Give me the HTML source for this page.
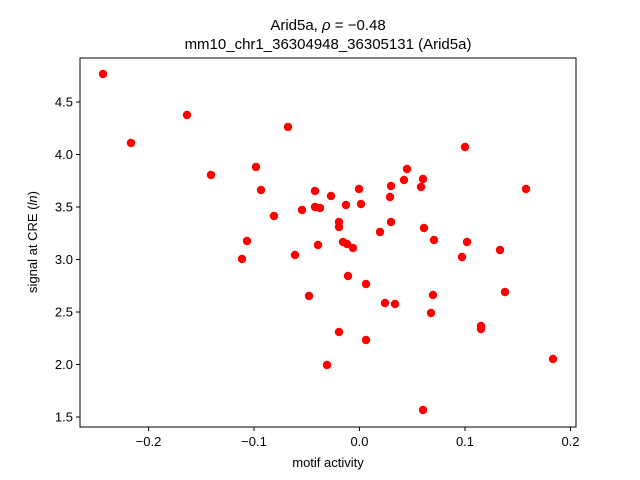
<!DOCTYPE html>
<html><head><meta charset="utf-8"><style>body{margin:0;background:#fff}svg{display:block}text{font-family:"Liberation Sans","DejaVu Sans",sans-serif;fill:#000}</style></head><body>
<svg width="640" height="480" xmlns="http://www.w3.org/2000/svg">
<rect width="640" height="480" fill="#fff"/>
<g fill="#ff0000">
<circle cx="103" cy="74" r="4.2"/><circle cx="131" cy="143" r="4.2"/><circle cx="187" cy="115" r="4.2"/><circle cx="211" cy="175" r="4.2"/><circle cx="242" cy="259" r="4.2"/><circle cx="247" cy="241" r="4.2"/><circle cx="256" cy="167" r="4.2"/><circle cx="261" cy="190" r="4.2"/><circle cx="274" cy="216" r="4.2"/><circle cx="288" cy="127" r="4.2"/><circle cx="295" cy="255" r="4.2"/><circle cx="302" cy="210" r="4.2"/><circle cx="309" cy="296" r="4.2"/><circle cx="315" cy="207" r="4.2"/><circle cx="315" cy="191" r="4.2"/><circle cx="318" cy="245" r="4.2"/><circle cx="320" cy="208" r="4.2"/><circle cx="327" cy="365" r="4.2"/><circle cx="331" cy="196" r="4.2"/><circle cx="339" cy="222" r="4.2"/><circle cx="339" cy="227" r="4.2"/><circle cx="339" cy="332" r="4.2"/><circle cx="343" cy="242" r="4.2"/><circle cx="346" cy="205" r="4.2"/><circle cx="347" cy="244" r="4.2"/><circle cx="348" cy="276" r="4.2"/><circle cx="353" cy="248" r="4.2"/><circle cx="359" cy="189" r="4.2"/><circle cx="361" cy="204" r="4.2"/><circle cx="366" cy="284" r="4.2"/><circle cx="366" cy="340" r="4.2"/><circle cx="380" cy="232" r="4.2"/><circle cx="385" cy="303" r="4.2"/><circle cx="390" cy="197" r="4.2"/><circle cx="391" cy="222" r="4.2"/><circle cx="391" cy="186" r="4.2"/><circle cx="395" cy="304" r="4.2"/><circle cx="404" cy="180" r="4.2"/><circle cx="407" cy="169" r="4.2"/><circle cx="421" cy="187" r="4.2"/><circle cx="423" cy="179" r="4.2"/><circle cx="424" cy="228" r="4.2"/><circle cx="423" cy="410" r="4.2"/><circle cx="431" cy="313" r="4.2"/><circle cx="433" cy="295" r="4.2"/><circle cx="434" cy="240" r="4.2"/><circle cx="462" cy="257" r="4.2"/><circle cx="465" cy="147" r="4.2"/><circle cx="467" cy="242" r="4.2"/><circle cx="481" cy="326" r="4.2"/><circle cx="481" cy="329" r="4.2"/><circle cx="500" cy="250" r="4.2"/><circle cx="505" cy="292" r="4.2"/><circle cx="526" cy="189" r="4.2"/><circle cx="553" cy="359" r="4.2"/>
</g>
<rect x="80" y="58" width="496" height="369" fill="none" stroke="#000" stroke-width="1"/>
<g stroke="#000" stroke-width="1">
<line x1="148.5" y1="427" x2="148.5" y2="431"/><line x1="254" y1="427" x2="254" y2="431"/><line x1="359.5" y1="427" x2="359.5" y2="431"/><line x1="465" y1="427" x2="465" y2="431"/><line x1="570.5" y1="427" x2="570.5" y2="431"/>
<line x1="76" y1="417" x2="80" y2="417"/><line x1="76" y1="364.5" x2="80" y2="364.5"/><line x1="76" y1="312" x2="80" y2="312"/><line x1="76" y1="259.5" x2="80" y2="259.5"/><line x1="76" y1="207" x2="80" y2="207"/><line x1="76" y1="154.5" x2="80" y2="154.5"/><line x1="76" y1="102" x2="80" y2="102"/>
</g>
<g font-size="13" text-anchor="middle">
<text x="148.5" y="446">−0.2</text><text x="254" y="446">−0.1</text><text x="359.5" y="446">0.0</text><text x="465" y="446">0.1</text><text x="570.5" y="446">0.2</text>
</g>
<g font-size="13" text-anchor="end">
<text x="73" y="421.5">1.5</text><text x="73" y="369">2.0</text><text x="73" y="316.5">2.5</text><text x="73" y="264">3.0</text><text x="73" y="211.5">3.5</text><text x="73" y="159">4.0</text><text x="73" y="106.5">4.5</text>
</g>
<text x="328" y="467" font-size="13" text-anchor="middle">motif activity</text>
<text transform="translate(37,242) rotate(-90)" font-size="13" text-anchor="middle">signal at CRE (<tspan font-style="italic">ln</tspan>)</text>
<text x="328" y="30" font-size="15" text-anchor="middle">Arid5a, <tspan font-style="italic">ρ</tspan> = −0.48</text>
<text x="328" y="49" font-size="15" text-anchor="middle">mm10_chr1_36304948_36305131 (Arid5a)</text>
</svg>
</body></html>
